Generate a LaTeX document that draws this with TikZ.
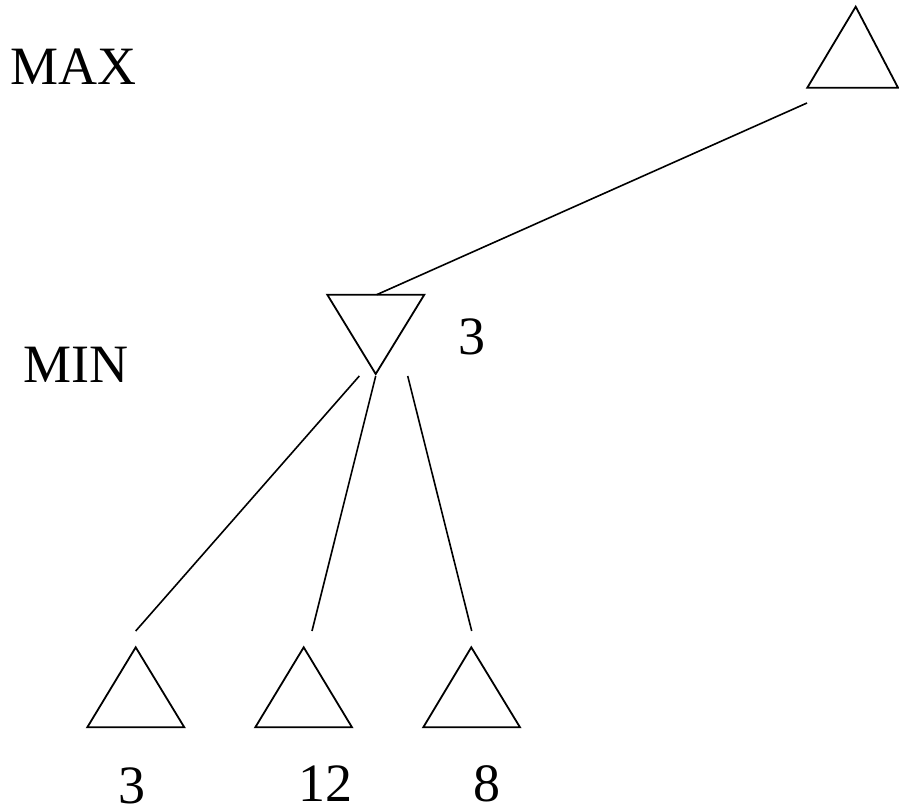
\documentclass[tikz,border=0pt]{standalone}
\usepackage{fontspec}
\setmainfont{Liberation Serif}
\begin{document}
\begin{tikzpicture}[x=1pt,y=-1pt,
  tri/.style={line width=1.8pt,line join=miter},
  edge/.style={line width=1.6pt},
  lbl/.style={inner sep=0pt,font=\fontsize{54}{60}\selectfont}]
\useasboundingbox[fill=white] (0,0) rectangle (899,810);
% MAX node
\draw[tri] (807.3,87.7) -- (855.7,6.7) -- (898,87.7) -- cycle;
\coordinate (maxout) at (807,103);
% MIN node
\draw[tri] (327.3,294.7) -- (424.3,294.7) -- (375.7,374) -- cycle;
\coordinate (minin) at (376.7,294.7);
\coordinate (minout1) at (359.3,376);
\coordinate (minout2) at (375.7,376);
\coordinate (minout3) at (407.7,376);
% leaves
\draw[tri] (87.3,727.3) -- (135.7,647.3) -- (184.3,727.3) -- cycle;
\draw[tri] (255.3,727.3) -- (303.7,647.3) -- (352,727.3) -- cycle;
\draw[tri] (423.3,727.3) -- (471.3,647.3) -- (520,727.3) -- cycle;
\coordinate (leaf1) at (135.7,631);
\coordinate (leaf2) at (312,631);
\coordinate (leaf3) at (471.7,631);
% edges
\draw[edge] (maxout) -- (minin);
\draw[edge] (minout1) -- (leaf1);
\draw[edge] (minout2) -- (leaf2);
\draw[edge] (minout3) -- (leaf3);
% labels
\node[lbl] (tmax) at (73.3,66.7) {MAX};
\node[lbl] (tmin) at (75.8,365) {MIN};
\node[lbl] (vmin) at (472.3,336.7) {3};
\node[lbl] (v1) at (132.3,786) {3};
\node[lbl] (v2) at (325.7,783.5) {12};
\node[lbl] (v3) at (486.7,783.5) {8};
\end{tikzpicture}
\end{document}
